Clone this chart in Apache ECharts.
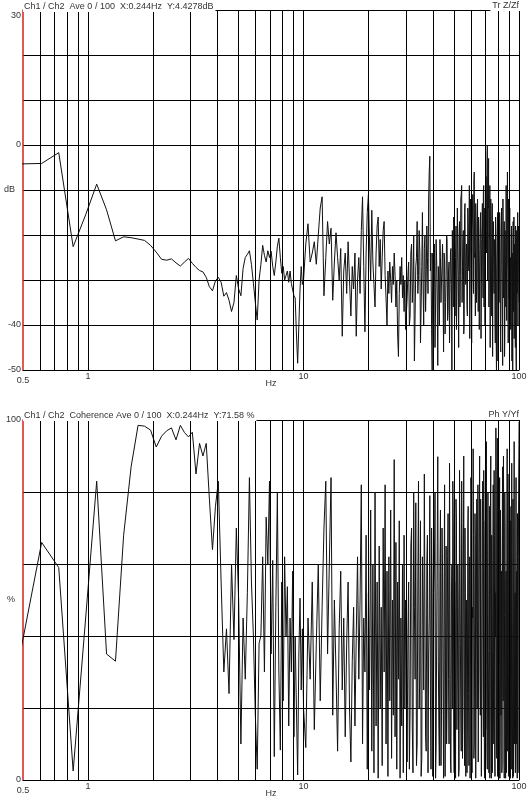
<!DOCTYPE html>
<html>
<head>
<meta charset="utf-8">
<script src="https://cdn.jsdelivr.net/npm/echarts@6/dist/echarts.min.js"></script>
<style>
html, body { margin: 0; padding: 0; background: #fff; }
#chart { width: 532px; height: 804px; }
</style>
</head>
<body>
<div id="chart"></div>
<script>
// analyser bin spacing in Hz
const DF = 0.12207;

// Tr Z/Zf magnitude (dB), one value per bin from bin 4
const magLoStart = 4, magLoStep = 1;
const magLo = [-4.2, -4.1, -1.7, -22.6, -15.5, -8.7, -14.4, -21.3, -20.4, -20.6, -20.9, -21.2, -22.3,
  -23.8, -25.4, -25.6, -25.3, -26.2, -26.9, -26, -25.2, -26.3, -27.2, -27.9, -28.2, -29.4, -31.5,
  -32.4, -30.2, -29.4, -30.5, -33.6, -32.8, -34.5, -37, -35, -29, -32, -33.5, -27.4, -25, -24.3,
  -23.5, -26.5, -30.7, -35, -38.9, -30, -26.5, -22.3, -24.5, -26, -23.5, -25, -23.6, -27, -29, -26,
  -22.5, -20.7, -25, -28.5, -27, -30, -29, -28, -30.5, -28, -30.8, -31, -33.5, -34, -42, -48.5,
  -40, -32, -27, -31];
// every 2nd bin from bin 82 (10 Hz)
const magMidStart = 82, magMidStep = 2;
const magMid = [-30, -22, -17.5, -26, -24, -21.5, -26.5, -20, -14, -11.5, -33.5, -25, -17, -22, -18.5,
  -34.5, -26, -19.5, -25, -30, -23, -42.5, -28, -24, -33, -21.5, -30, -38, -27, -32, -24, -42.5, -30,
  -25, -33, -19, -11.5, -27, -41.5, -24, -15, -11, -22, -30, -14.5, -26, -31, -36, -24, -18, -16, -27,
  -21, -32, -25, -19, -17, -29, -34, -40, -28, -33, -26, -30, -35, -27, -31, -24, -29, -36, -30, -42,
  -47, -33, -27, -31, -25, -34, -29, -37, -30, -41];
// every 4th bin from bin 248 (30 Hz)
const magHiStart = 248, magHiStep = 4;
const magHi = [-34, -26, -38, -22, -31, -48, -27, -17, -29, -24, -36, -15, -40, -20,
  -30, -25, -12, -2.5, -24, -50, -28, -22, -36, -26, -49, -31, -21, -35, -27, -32, -24, -42, -29,
  -21, -37, -26, -33, -23, -50, -28, -16, -34, -25, -41, -14, -30, -20, -36, -12, -9, -27, -19,
  -40, -13, -31, -22, -38, -17, -28, -43, -12, -26, -19, -11, -33, -6, -24, -13, -35, -20, -29,
  -16, -41, -23, -15, -32, -18, -27, -10, -36, -14, -25, -7, -19, 0, -11, -3, -22, -9, -30, -16,
  -38, -13, -27, -18, -33, -21, -44, -20, -50, -24, -15, -36, -22, -29, -19, -42, -25, -14, -33,
  -49, -21, -30, -17, -43, -26, -36, -20, -28, -6, -24, -12, -34, -22, -40, -25, -31, -18, -48,
  -27, -21, -37, -16, -29, -23, -45, -26, -50, -19, -32, -15, -28, -20, -35];
// the bins in between (250, 254, ...)
const magHi2Start = 250, magHi2Step = 4;
const magHi2 = [-29, -40, -24, -35, -20, -38, -25, -33, -19, -44, -27, -31, -23, -37,
  -18, -33, -6, -28, -41, -24, -30, -45, -21, -34, -27, -40, -25,
  -30, -22, -46, -26, -35, -20, -39, -28, -44, -24, -31, -19, -36, -27,
  -38, -18, -32, -23, -45, -17, -29, -11, -35, -21, -42, -15, -30, -24,
  -36, -14, -27, -9, -33, -20, -44, -16, -30, -8, -25, -38, -18, -31,
  -12, -37, -22, -28, -17, -43, -21, -13, -34, -9, -26, -40, -15, -24,
  -4, -30, -14, -36, -19, -45, -12, -28, -22, -47, -17, -31, -25, -39,
  -16, -43, -28, -20, -48, -23, -35, -15, -31, -46, -18, -27, -38, -12,
  -34, -22, -47, -19, -30, -9, -39, -26, -16, -44, -21, -33, -14, -29,
  -41, -20, -35, -24, -50, -17, -30, -43, -22, -38, -18, -47, -25, -33,
  -21, -40, -18, -30];

// Coherence (%), same bin layout
const cohLoStart = 4, cohLoStep = 1;
const cohLo = [36, 66, 59, 2.5, 45, 83, 35, 33, 68, 87, 98.5, 98.3, 97.2, 92.5, 95.5, 97, 97.8, 94.5,
  98.5, 96.5, 95.3, 96.6, 85, 93.5, 90, 93.5, 78, 64, 76, 83, 55, 30, 42, 24, 60, 39, 70, 50, 10, 45,
  28, 52, 84, 55, 40, 18, 3, 38, 40, 62, 30, 73, 60, 83, 35, 61, 6.5, 48, 79.7, 30, 8.3, 55, 22, 62,
  40, 53.7, 15, 45, 30, 58, 12, 40, 20, 1.4, 35, 50.5, 25, 42];
const cohMidStart = 82, cohMidStep = 2;
const cohMid = [20, 9, 45, 28, 55, 14, 38, 60, 22, 48, 70, 83, 35, 60, 84, 18, 50, 30, 8, 42, 58, 25,
  45, 12, 38, 55, 20, 5, 33, 48, 15, 40, 62, 28, 50, 82, 10, 45, 30, 68, 3, 52, 25, 75, 8, 60, 2, 80,
  15, 55, 0.5, 65, 20, 48, 4, 70, 30, 82, 10, 58, 1, 62, 22, 75, 6, 50, 18, 89, 12, 66, 3, 55, 28, 72,
  0.5, 45, 15, 60, 2, 68, 20, 50];
const cohHiStart = 248, cohHiStep = 4;
const cohHi = [5, 55, 20, 70, 2, 48, 77, 10, 83, 30, 1, 62, 25, 45,
  8, 68, 35, 79, 3, 52, 18, 60, 0.5, 40, 89.8, 15, 58,
  4, 70, 28, 50, 1, 65, 22, 74, 10, 45, 2, 60, 83, 12,
  55, 0.5, 72, 30, 48, 3, 66, 18, 83, 6, 58, 25, 70, 1,
  50, 15, 76, 4, 62, 35, 80, 2, 45, 68, 10, 74, 0.5, 55,
  20, 82, 5, 60, 30, 78, 1, 48, 83, 12, 66, 0.5, 72, 25,
  58, 3, 80, 15, 50, 0.5, 78, 35, 68, 2, 60, 20, 86, 6,
  52, 97.8, 10, 70, 1, 89, 30, 64, 0.5, 75, 18, 58, 4, 87,
  22, 66, 0.5, 80, 12, 54, 2, 72, 35, 85, 3, 60, 18, 76,
  0.5, 68, 28, 52, 5, 78, 1, 62, 20, 45, 2, 70, 10, 58,
  0.5, 66, 25, 80, 99.5];
const cohHi2Start = 250, cohHi2Step = 4;
const cohHi2 = [40, 3, 65, 15, 80, 28, 4, 55, 20, 72, 6, 48, 85, 12,
  60, 2, 45, 25, 70, 1, 52, 80, 9, 66, 33, 4, 75,
  18, 58, 0.5, 82, 35, 10, 62, 28, 88, 5, 50, 20, 70, 2,
  44, 78, 14, 60, 1, 86, 38, 8, 64, 22, 90, 4, 52, 30,
  2, 70, 24, 58, 0.5, 84, 16, 48, 92, 6, 40, 66, 1, 78,
  32, 5, 60, 90, 18, 44, 0.5, 72, 28, 86, 3, 55, 14, 94,
  8, 62, 36, 2, 76, 22, 90, 0.5, 50, 30, 82, 10, 68, 1,
  40, 74, 6, 95, 20, 56, 0.5, 84, 12, 62, 38, 2, 78, 28,
  90, 5, 46, 70, 0.5, 58, 26, 92, 8, 66, 1, 80, 34, 14,
  72, 3, 88, 40, 0.5, 60, 18, 94, 10, 52, 2, 84, 30, 6,
  74, 2, 62, 90];

// axes
const freqGrid = [0.6, 0.7, 0.8, 0.9, 1, 2, 3, 4, 5, 6, 7, 8, 9, 10, 20, 30, 40, 50, 60, 70, 80, 90, 100];
const freqLabels = [0.5, 1, 10, 100];
const magLabels = [30, 0, -40, -50];
const cohLabels = [100, 0];

const titleTop = 'Ch1 / Ch2  Ave 0 / 100  X:0.244Hz  Y:4.4278dB';
const titleBottom = 'Ch1 / Ch2  Coherence Ave 0 / 100  X:0.244Hz  Y:71.58 %';

const FONT = 'Liberation Sans, Arial, sans-serif';
const AXIS_RED = '#d42020';

// bins -> [Hz, value]
const toPairs = (start, step, vals) => vals.map((v, i) => [(start + i * step) * DF, v]);
const byFreq = (a, b) => a[0] - b[0];
const magData = [].concat(
  toPairs(magLoStart, magLoStep, magLo),
  toPairs(magMidStart, magMidStep, magMid),
  toPairs(magHiStart, magHiStep, magHi),
  toPairs(magHi2Start, magHi2Step, magHi2)).sort(byFreq);
const cohData = [].concat(
  toPairs(cohLoStart, cohLoStep, cohLo),
  toPairs(cohMidStart, cohMidStep, cohMid),
  toPairs(cohHiStart, cohHiStep, cohHi),
  toPairs(cohHi2Start, cohHi2Step, cohHi2)).sort(byFreq);

const freqFmt = v => {
  const hit = freqLabels.find(f => Math.abs(f - v) / f < 0.01);
  if (hit === undefined) return '';
  return hit === 0.5 ? '{lo|0.5}' : String(hit);
};

const xAxisBase = (gridIndex) => ({
  gridIndex,
  type: 'log',
  logBase: 10,
  min: 0.5,
  max: 100,
  name: 'Hz',
  nameLocation: 'middle',
  nameGap: 9,
  nameMoveOverlap: false,
  nameTextStyle: { fontSize: 9, color: '#333', fontFamily: FONT },
  axisLine: { show: true, onZero: false, lineStyle: { color: '#000', width: 1 } },
  axisTick: { show: false },
  splitLine: { show: false },
  axisLabel: {
    margin: 2,
    fontSize: 9,
    color: '#333',
    fontFamily: FONT,
    formatter: freqFmt,
    rich: { lo: { fontSize: 9, color: '#333', fontFamily: FONT, padding: [4, 0, 0, 0] } }
  }
});

const yAxisBase = (gridIndex, min, max, interval, name, labels) => ({
  gridIndex,
  type: 'value',
  min,
  max,
  interval,
  name,
  nameLocation: 'middle',
  nameRotate: 0,
  nameGap: 8,
  nameMoveOverlap: false,
  nameTextStyle: { fontSize: 9, color: '#333', fontFamily: FONT },
  axisLine: { show: true, onZero: false, lineStyle: { color: AXIS_RED, width: 1.5 } },
  axisTick: { show: false },
  splitLine: { show: true, lineStyle: { color: '#000', width: 1 } },
  axisLabel: {
    margin: 2,
    fontSize: 9,
    color: '#333',
    fontFamily: FONT,
    formatter: v => {
      if (!labels.includes(v)) return '';
      return v === 30 ? '{dn|30}' : String(v);
    },
    rich: { dn: { fontSize: 9, color: '#333', fontFamily: FONT, padding: [12, 0, 0, 0] } }
  }
});

// vertical grid at 1-2-3...9 steps
const gridLines = {
  silent: true,
  symbol: ['none', 'none'],
  label: { show: false },
  lineStyle: { color: '#000', width: 1, type: 'solid' },
  emphasis: { disabled: true },
  animation: false,
  data: freqGrid.map(f => ({ xAxis: f }))
};

const traceSeries = (idx, data) => ({
  type: 'line',
  xAxisIndex: idx,
  yAxisIndex: idx,
  data,
  showSymbol: false,
  symbol: 'none',
  clip: true,
  lineStyle: { color: '#111', width: 1 },
  emphasis: { disabled: true },
  markLine: gridLines
});

const titleStyle = { fontSize: 9, fontWeight: 'normal', color: '#333', fontFamily: FONT, lineHeight: 10 };

const chart = echarts.init(document.getElementById('chart'));
chart.setOption({
  animation: false,
  backgroundColor: '#fff',
  title: [
    { text: titleTop, left: 23, top: 2, padding: [0, 2, 0, 1], backgroundColor: '#fff', textStyle: titleStyle },
    { text: 'Tr Z/Zf', right: 12, top: 1, padding: [0, 1, 0, 2], backgroundColor: '#fff', textStyle: titleStyle },
    { text: titleBottom, left: 23, top: 411, padding: [0, 2, 0, 1], backgroundColor: '#fff', textStyle: titleStyle },
    { text: 'Ph Y/Yf', right: 12, top: 410, padding: [0, 1, 0, 2], backgroundColor: '#fff', textStyle: titleStyle }
  ],
  grid: [
    { left: 23, top: 10, width: 496, height: 360, containLabel: false, outerBoundsMode: 'none' },
    { left: 23, top: 420, width: 496, height: 360, containLabel: false, outerBoundsMode: 'none' }
  ],
  xAxis: [xAxisBase(0), xAxisBase(1)],
  yAxis: [
    yAxisBase(0, -50, 30, 10, 'dB', magLabels),
    yAxisBase(1, 0, 100, 20, '%', cohLabels)
  ],
  series: [traceSeries(0, magData), traceSeries(1, cohData)]
});
</script>
</body>
</html>
